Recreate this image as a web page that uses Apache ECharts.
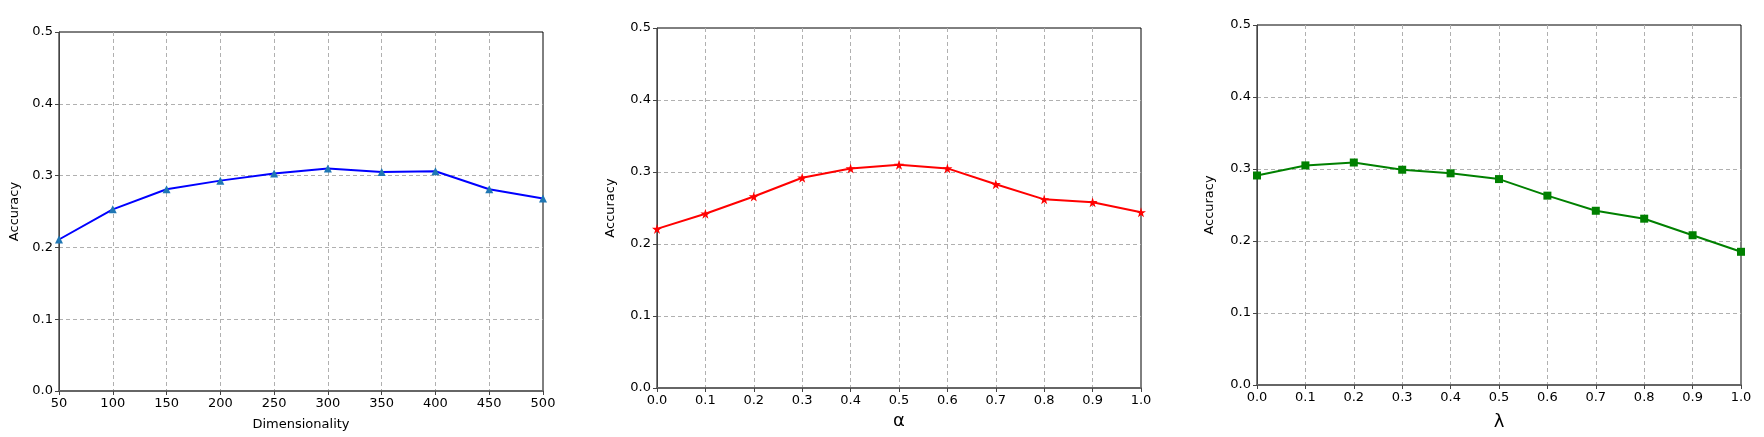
<!DOCTYPE html>
<html>
<head>
<meta charset="utf-8">
<script src="https://cdn.jsdelivr.net/npm/echarts@6/dist/echarts.min.js"></script>
<style>
  html, body { margin: 0; padding: 0; background: #fff; }
  #chart { width: 1764px; height: 437px; }
</style>
</head>
<body>
<div id="chart"></div>
<script>
// 维度
const dimX = [50, 100, 150, 200, 250, 300, 350, 400, 450, 500]
const dimAcc = [0.211, 0.253, 0.281, 0.293, 0.303, 0.310, 0.305, 0.306, 0.281, 0.268]

// alpha
const alphaX = [0.0, 0.1, 0.2, 0.3, 0.4, 0.5, 0.6, 0.7, 0.8, 0.9, 1.0]
const alphaAcc = [0.221, 0.242, 0.266, 0.292, 0.305, 0.310, 0.305, 0.283, 0.262, 0.258, 0.244]

// lambda
const lambdaX = [0.0, 0.1, 0.2, 0.3, 0.4, 0.5, 0.6, 0.7, 0.8, 0.9, 1.0]
const lambdaAcc = [0.291, 0.305, 0.309, 0.299, 0.294, 0.286, 0.263, 0.242, 0.231, 0.208, 0.185]

const FONT = 'DejaVu Sans'
const starPath = 'path://M50,0 L61,35 L98,35 L68,57 L79,91 L50,70 L21,91 L32,57 L2,35 L39,35 Z'

const panels = [
  { left: 59, top: 32, height: 359, xName: 'Dimensionality', xNameSize: 13, xNameGap: 27, yNameGap: 38,
    min: 50, max: 500, interval: 50, digits: 0, xs: dimX, ys: dimAcc,
    lineColor: '#0000ff', markColor: '#1f77b4', symbol: 'triangle', symbolSize: 8 },
  { left: 657, top: 28, height: 360, xName: 'α', xNameSize: 18, xNameGap: 24, yNameGap: 40,
    min: 0, max: 1, interval: 0.1, digits: 1, xs: alphaX, ys: alphaAcc,
    lineColor: '#ff0000', markColor: '#ff0000', symbol: starPath, symbolSize: 10 },
  { left: 1257, top: 25, height: 360, xName: 'λ', xNameSize: 18, xNameGap: 28, yNameGap: 41,
    min: 0, max: 1, interval: 0.1, digits: 1, xs: lambdaX, ys: lambdaAcc,
    lineColor: '#008000', markColor: '#008000', symbol: 'rect', symbolSize: 8 }
]

const gridLine = { color: '#b0b0b0', type: [4, 3], width: 1 }

const grid = []
const xAxis = []
const yAxis = []
const series = []

panels.forEach((p, i) => {
  grid.push({
    left: p.left, top: p.top, width: 484, height: p.height,
    show: true, borderColor: '#000', borderWidth: 1, backgroundColor: 'transparent'
  })
  xAxis.push({
    type: 'value', gridIndex: i, min: p.min, max: p.max, interval: p.interval,
    name: p.xName, nameLocation: 'middle', nameGap: p.xNameGap,
    nameTextStyle: { fontFamily: FONT, fontSize: p.xNameSize, color: '#000' },
    axisLine: { show: true, onZero: false, lineStyle: { color: '#666', width: 2 } },
    axisTick: { show: true, length: 4, lineStyle: { color: '#444' } },
    axisLabel: { fontFamily: FONT, fontSize: 13, color: '#000', margin: 6,
      formatter: v => v.toFixed(p.digits) },
    splitLine: { show: true, showMinLine: false, showMaxLine: false, lineStyle: gridLine }
  })
  yAxis.push({
    type: 'value', gridIndex: i, min: 0, max: 0.5, interval: 0.1,
    name: 'Accuracy', nameLocation: 'middle', nameGap: p.yNameGap,
    nameTextStyle: { fontFamily: FONT, fontSize: 13, color: '#000' },
    axisLine: { show: true, onZero: false, lineStyle: { color: '#444', width: 1 } },
    axisTick: { show: true, length: 4, lineStyle: { color: '#444' } },
    axisLabel: { fontFamily: FONT, fontSize: 13, color: '#000', margin: 6,
      formatter: v => v.toFixed(1) },
    splitLine: { show: true, showMinLine: false, showMaxLine: false, lineStyle: gridLine }
  })
  series.push({
    type: 'line', xAxisIndex: i, yAxisIndex: i,
    data: p.xs.map((x, k) => [x, p.ys[k]]),
    symbol: p.symbol, symbolSize: p.symbolSize, showAllSymbol: true,
    lineStyle: { color: p.lineColor, width: 2 },
    itemStyle: { color: p.markColor, borderWidth: 0 },
    clip: false, animation: false, z: 3
  })
})

const chart = echarts.init(document.getElementById('chart'))
chart.setOption({
  animation: false,
  backgroundColor: '#fff',
  grid, xAxis, yAxis, series
})
</script>
</body>
</html>
